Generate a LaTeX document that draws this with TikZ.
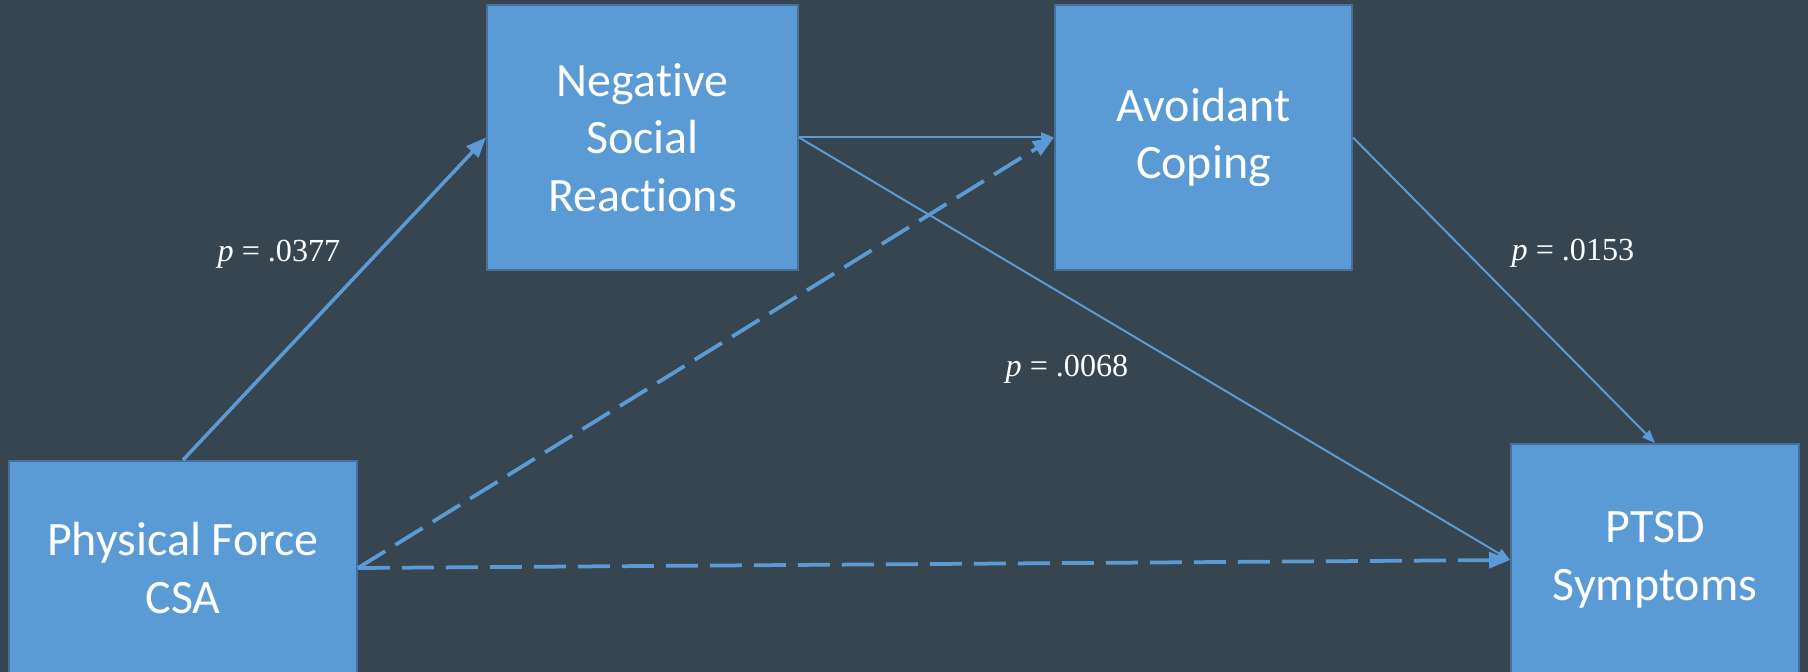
\documentclass[tikz,border=0pt]{standalone}
\usepackage{fontspec}
\usepackage{xcolor}
\usepackage{tikz}
\usetikzlibrary{
  arrows.meta, positioning
}
\newfontfamily\boxfont[Ligatures=NoCommon]{Carlito}
\newfontfamily\pvalfont{Liberation Serif}
\definecolor{bgSlate}{HTML}{36454F}
\definecolor{boxFill}{HTML}{5B9BD5}
\definecolor{boxEdge}{HTML}{41719C}
\definecolor{pathBlue}{HTML}{5B9BD5}

\begin{document}
\begin{tikzpicture}[
  x=0.02cm, y=-0.02cm,
  var/.style={rectangle, fill=boxFill, draw=boxEdge, line width=0.04cm,
    text=white, align=center, inner sep=0pt,
    font=\boxfont\fontsize{27.3}{32.8}\selectfont},
  strong/.style={draw=pathBlue, line width=0.07cm,
    -{Triangle[length=0.4cm, width=0.32cm]}},
  weak/.style={draw=pathBlue, line width=0.04cm,
    -{Triangle[length=0.26cm, width=0.2cm]}},
  nonsig/.style={draw=pathBlue, line width=0.075cm,
    dash pattern=on 0.64cm off 0.24cm,
    -{Triangle[length=0.42cm, width=0.32cm]}},
  pval/.style={text=white, font=\pvalfont\fontsize{18.3}{22}\selectfont}
]
% canvas
\fill[bgSlate] (0,0) rectangle (1808,672);
\useasboundingbox (0,0) rectangle (1808,672);

% variables
\node[var, minimum width=348*0.02cm, minimum height=214*0.02cm] (force) at (183,568) {Physical Force\\CSA};
\node[var, minimum width=311*0.02cm, minimum height=265*0.02cm] (social) at (642.5,137.5) {Negative\\Social\\Reactions};
\node[var, minimum width=297*0.02cm, minimum height=265*0.02cm] (coping) at (1203.5,137.5) {Avoidant\\Coping};
\node[var, minimum width=288*0.02cm, minimum height=232*0.02cm] (ptsd) at (1655,560) {PTSD\\Symptoms};

% paths
\draw[strong] (force.north) -- (social.west);
\draw[weak] (social.east) -- (coping.west);
\draw[weak] (social.east) -- (ptsd.west);
\draw[weak] (coping.east) -- (ptsd.north);
\draw[nonsig] (force.east) -- (coping.west);
\draw[nonsig] (force.east) -- (ptsd.west);

% p values
\node[pval] (p1) at (279,254) {\itshape p\upshape{} = .0377};
\node[pval] (p2) at (1067,369) {\itshape p\upshape{} = .0068};
\node[pval] (p3) at (1573,253) {\itshape p\upshape{} = .0153};
\end{tikzpicture}
\end{document}
